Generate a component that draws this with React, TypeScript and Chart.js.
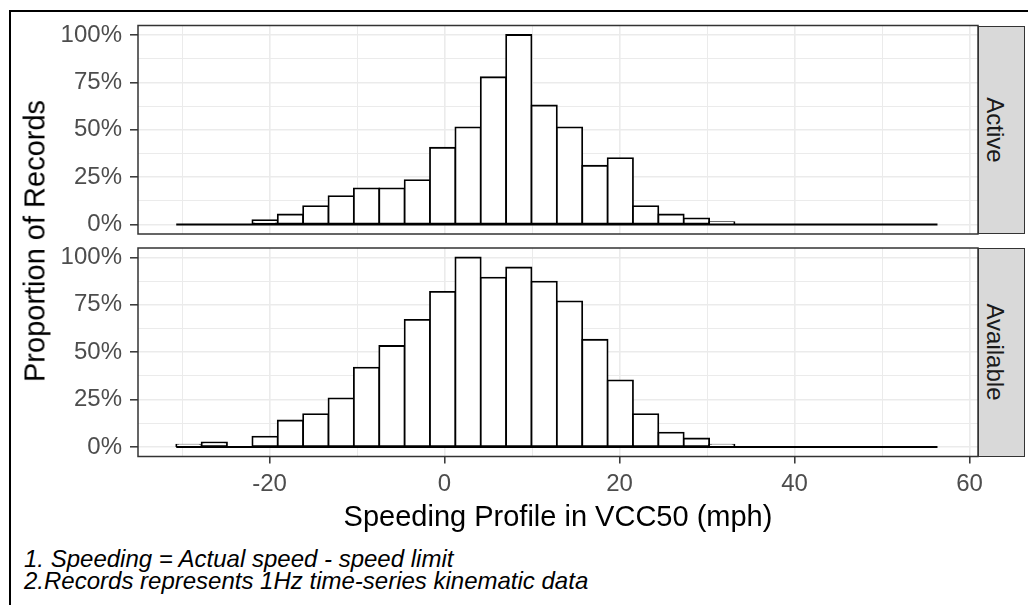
import React, { useEffect, useRef } from "react";
import { Chart, registerables } from "chart.js";

Chart.register(...registerables);

// ---- data ----
const binCenters = [
  -29.21, -26.31, -23.41, -20.51, -17.61, -14.71, -11.81, -8.91, -6.01, -3.11,
  -0.21, 2.69, 5.59, 8.49, 11.39, 14.29, 17.19, 20.09, 22.99, 25.89,
  28.79, 31.69, 34.59, 37.49, 40.39, 43.29, 46.19, 49.09, 51.99, 54.89,
];
const binWidth = 2.9;
const activeShare = [
  0, 0, 0, 0.023, 0.053, 0.097, 0.15, 0.191, 0.191, 0.234,
  0.405, 0.513, 0.777, 1.0, 0.628, 0.513, 0.31, 0.35, 0.097, 0.053,
  0.032, 0.012, 0, 0, 0, 0, 0, 0, 0, 0,
];
const availableShare = [
  0.012, 0.025, 0, 0.055, 0.14, 0.174, 0.257, 0.419, 0.533, 0.671,
  0.819, 1.0, 0.894, 0.947, 0.873, 0.768, 0.566, 0.352, 0.174, 0.076,
  0.045, 0.012, 0, 0, 0, 0, 0, 0, 0, 0,
];
const xTickLabels = ["-20", "0", "20", "40", "60"];
const xTickValues = [-20, 0, 20, 40, 60];
const yTickLabels = ["0%", "25%", "50%", "75%", "100%"];
const panelNames = ["Active", "Available"];
const xTitle = "Speeding Profile in VCC50 (mph)";
const yTitle = "Proportion of Records";
const captionLines = [
  "1. Speeding = Actual speed - speed limit",
  "2.Records represents 1Hz time-series kinematic data",
];

const FONT = '"Liberation Sans", Arial, Helvetica, sans-serif';
const X_MIN = -35.03;
const X_MAX = 60.97;

const panelFrame = {
  id: "panelFrame",
  afterDraw(chart: any) {
    const { ctx, chartArea: a } = chart;
    ctx.save();
    ctx.strokeStyle = "#333333";
    ctx.lineWidth = 1.5;
    ctx.strokeRect(a.left, a.top, a.right - a.left, a.bottom - a.top);
    ctx.restore();
  },
};

function isMajorX(v: number) {
  return xTickValues.indexOf(Math.round(v)) >= 0;
}
function isMajorY(v: number) {
  return Math.abs(v * 4 - Math.round(v * 4)) < 1e-6;
}

function makeChart(canvas: HTMLCanvasElement, values: number[], showXAxis: boolean, padTop: number, padBottom: number, xHeight: number) {
  const lo = binCenters[0] - binWidth / 2;
  const hi = binCenters[binCenters.length - 1] + binWidth / 2;
  return new Chart(canvas, {
    type: "bar",
    data: {
      datasets: [
        {
          type: "bar",
          data: binCenters.map((c, i) => ({ x: c, y: values[i] })),
          backgroundColor: "#FFFFFF",
          borderColor: "#000000",
          borderWidth: 1.8,
          borderSkipped: false,
          inflateAmount: 0.9,
          barPercentage: 1,
          categoryPercentage: 1,
          order: 2,
        } as any,
        {
          type: "line",
          data: [
            { x: lo, y: 0 },
            { x: hi, y: 0 },
          ],
          borderColor: "#000000",
          borderWidth: 1.8,
          pointRadius: 0,
          fill: false,
          order: 1,
        } as any,
      ],
    },
    options: {
      responsive: false,
      animation: false,
      devicePixelRatio: 1,
      events: [],
      layout: { padding: { left: 0, right: 50, top: padTop, bottom: padBottom } },
      plugins: { legend: { display: false }, tooltip: { enabled: false } },
      scales: {
        x: {
          type: "linear",
          min: X_MIN,
          max: X_MAX,
          offset: false,
          ticks: {
            stepSize: 10,
            includeBounds: false,
            maxTicksLimit: 30,
            autoSkip: false,
            maxRotation: 0,
            display: showXAxis,
            padding: 6,
            color: "#4D4D4D",
            font: { family: FONT, size: 24 },
            callback: (v: any) => {
              const i = xTickValues.indexOf(Math.round(Number(v)));
              return i >= 0 && Math.abs(Number(v) - xTickValues[i]) < 1e-6 ? xTickLabels[i] : "";
            },
          },
          grid: {
            offset: false,
            color: "#EBEBEB",
            lineWidth: (ctx: any) => (ctx.tick && isMajorX(ctx.tick.value) ? 1.6 : 1.0),
            drawTicks: showXAxis,
            tickLength: 7,
            tickWidth: 1.5,
            tickColor: (ctx: any) => (ctx.tick && isMajorX(ctx.tick.value) ? "#333333" : "rgba(0,0,0,0)"),
          },
          border: { display: false },
          afterFit: (s: any) => {
            s.height = xHeight;
            s.paddingLeft = 0;
            s.paddingRight = 0;
          },
        } as any,
        y: {
          type: "linear",
          min: -0.05,
          max: 1.05,
          ticks: {
            stepSize: 0.125,
            includeBounds: false,
            maxTicksLimit: 30,
            autoSkip: false,
            padding: 8,
            color: "#4D4D4D",
            font: { family: FONT, size: 24 },
            callback: (v: any) => (isMajorY(Number(v)) ? yTickLabels[Math.round(Number(v) * 4)] : ""),
          },
          grid: {
            color: "#EBEBEB",
            lineWidth: (ctx: any) => (ctx.tick && isMajorY(ctx.tick.value) ? 1.6 : 1.0),
            drawTicks: true,
            tickLength: 8,
            tickWidth: 1.5,
            tickColor: (ctx: any) => (ctx.tick && isMajorY(ctx.tick.value) ? "#333333" : "rgba(0,0,0,0)"),
          },
          border: { display: false },
          afterFit: (s: any) => {
            s.width = 138;
            s.paddingTop = 0;
            s.paddingBottom = 0;
          },
        } as any,
      },
    },
    plugins: [panelFrame],
  } as any);
}

const stripStyle = (top: number, height: number): React.CSSProperties => ({
  position: "absolute",
  left: 978,
  top,
  width: 47,
  height,
  boxSizing: "border-box",
  border: "1.5px solid #333333",
  background: "#D9D9D9",
});

const stripText: React.CSSProperties = {
  position: "absolute",
  left: 16,
  top: "50%",
  transform: "translate(-50%, -50%) rotate(90deg)",
  fontFamily: FONT,
  fontSize: 24,
  lineHeight: 1,
  color: "#1A1A1A",
  whiteSpace: "nowrap",
};

export default function App() {
  const topRef = useRef<HTMLCanvasElement>(null);
  const botRef = useRef<HTMLCanvasElement>(null);

  useEffect(() => {
    const c1 = makeChart(topRef.current!, activeShare, false, 25.5, 6, 0);
    const c2 = makeChart(botRef.current!, availableShare, true, 8, 0, 49.5);
    return () => {
      c1.destroy();
      c2.destroy();
    };
  }, []);

  return (
    <div style={{ position: "fixed", left: 0, top: 0, width: 1028, height: 605, background: "#FFFFFF", overflow: "hidden" }}>
      <div
        style={{
          position: "absolute",
          left: 8.5,
          top: 9.5,
          width: 1100,
          height: 700,
          borderLeft: "2px solid #000",
          borderTop: "2px solid #000",
        }}
      />
      <canvas ref={topRef} width={1028} height={240} style={{ position: "absolute", left: 0, top: 0, display: "block" }} />
      <canvas ref={botRef} width={1028} height={266} style={{ position: "absolute", left: 0, top: 240, display: "block" }} />
      <div style={stripStyle(25.5, 208.5)}>
        <span style={stripText}>{panelNames[0]}</span>
      </div>
      <div style={stripStyle(248, 208.5)}>
        <span style={stripText}>{panelNames[1]}</span>
      </div>
      <div
        style={{
          position: "absolute",
          left: 35,
          top: 240.5,
          transform: "translate(-50%, -50%) rotate(-90deg)",
          fontFamily: FONT,
          fontSize: 29,
          lineHeight: 1,
          color: "#000",
          whiteSpace: "nowrap",
        }}
      >
        {yTitle}
      </div>
      <div
        style={{
          position: "absolute",
          left: 138,
          width: 840,
          top: 501.5,
          textAlign: "center",
          fontFamily: FONT,
          fontSize: 29,
          lineHeight: 1,
          color: "#000",
          whiteSpace: "nowrap",
        }}
      >
        {xTitle}
      </div>
      <div
        style={{
          position: "absolute",
          left: 24,
          top: 548,
          fontFamily: FONT,
          fontSize: 24,
          fontStyle: "italic",
          lineHeight: "21.6px",
          color: "#000",
          whiteSpace: "nowrap",
        }}
      >
        {captionLines.map((l, i) => (
          <div key={i}>{l}</div>
        ))}
      </div>
    </div>
  );
}
